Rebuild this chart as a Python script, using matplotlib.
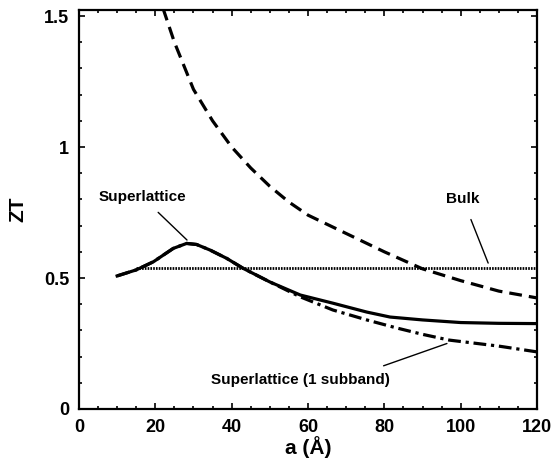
import numpy as np
import matplotlib.pyplot as plt
from matplotlib.ticker import MultipleLocator

plt.rcParams['font.family'] = ['Liberation Sans', 'DejaVu Sans']
plt.rcParams['font.weight'] = 'bold'

# period a (Angstrom) and ZT for each curve
a_qw = [22, 25, 30, 35, 40, 45, 50, 55, 60, 70, 80, 90, 100, 110, 120]
zt_qw = [1.53, 1.40, 1.22, 1.10, 1.00, 0.92, 0.85, 0.79, 0.74, 0.67, 0.60, 0.535, 0.49, 0.45, 0.424]

a_sl = [10, 15, 19.5, 24.7, 28.2, 30.8, 34.3, 38.7, 43, 50, 58, 66.5, 75.4, 81.5, 90, 100, 110, 120]
zt_sl = [0.508, 0.531, 0.562, 0.613, 0.632, 0.628, 0.607, 0.575, 0.537, 0.485, 0.435, 0.404, 0.37, 0.351, 0.34, 0.33, 0.327, 0.326]

a_sl1 = [10, 15, 19.5, 24.7, 28.2, 30.8, 34.3, 38.7, 43, 50, 58, 66.5, 75.4, 83.3, 90, 97, 110, 120]
zt_sl1 = [0.508, 0.531, 0.562, 0.613, 0.632, 0.628, 0.607, 0.575, 0.537, 0.485, 0.428, 0.378, 0.34, 0.309, 0.285, 0.263, 0.24, 0.218]

a_bulk = [15, 120]
zt_bulk = [0.538, 0.538]

fig = plt.figure(figsize=(5.55, 4.61), dpi=100)
ax = fig.add_axes([0.1423, 0.1128, 0.8253, 0.8655])

ax.plot(a_qw, zt_qw, color='black', lw=2.3, dashes=(4, 2.2))
ax.plot(a_sl, zt_sl, color='black', lw=2.3)
ax.plot(a_sl1, zt_sl1, color='black', lw=2.3, dashes=(4, 1.5, 1, 1.5))
ax.plot(a_bulk, zt_bulk, color='black', lw=2.0, dashes=(0.6, 0.4))

ax.set_xlim(0, 120)
ax.set_ylim(0, 1.523)
ax.xaxis.set_major_locator(MultipleLocator(20))
ax.xaxis.set_minor_locator(MultipleLocator(5))
ax.yaxis.set_major_locator(MultipleLocator(0.5))
ax.yaxis.set_minor_locator(MultipleLocator(0.1))
ax.yaxis.set_major_formatter(plt.FuncFormatter(lambda v, p: f'{v:g}'))
ax.tick_params(which='both', direction='in', top=True, right=True, labelsize=13, width=1.2)
ax.tick_params(which='major', length=4, pad=7)
ax.tick_params(which='minor', length=2)
for s in ax.spines.values():
    s.set_linewidth(1.6)

ax.set_xlabel('a (Å)', fontsize=15, fontweight='bold', labelpad=0)
ax.set_ylabel('ZT', fontsize=15, fontweight='bold', labelpad=12)

ax.annotate('Superlattice', xy=(28.3, 0.645), xytext=(16.5, 0.81), fontsize=11,
            fontweight='bold', ha='center', va='center',
            arrowprops=dict(arrowstyle='-', color='black', lw=1.0, shrinkA=6, shrinkB=0))
ax.annotate('Bulk', xy=(107.2, 0.557), xytext=(100.6, 0.80), fontsize=11,
            fontweight='bold', ha='center', va='center',
            arrowprops=dict(arrowstyle='-', color='black', lw=1.0, shrinkA=8, shrinkB=0))
ax.annotate('Superlattice (1 subband)', xy=(96.4, 0.25), xytext=(57.9, 0.11), fontsize=11,
            fontweight='bold', ha='center', va='center',
            arrowprops=dict(arrowstyle='-', color='black', lw=1.0, shrinkA=10, shrinkB=0,
                            relpos=(0.85, 1.0)))

fig.savefig('out.png', dpi=100)
